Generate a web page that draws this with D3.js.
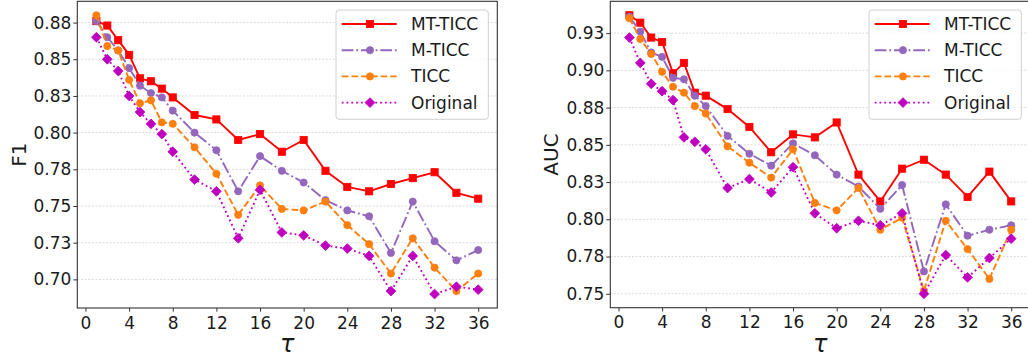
<!DOCTYPE html>
<html>
<head>
<meta charset="utf-8">
<script src="https://cdn.jsdelivr.net/npm/d3@7"></script>
<style>
body{margin:0;background:#fff;}
svg text{font-family:"DejaVu Sans",sans-serif;fill:#1a1a1a;}
</style>
</head>
<body>
<div id="chart"></div>
<script>
// data
var taus=[1,2,3,4,5,6,7,8,10,12,14,16,18,20,22,24,26,28,30,32,34,36];
var seriesNames=["MT-TICC","M-TICC","TICC","Original"];

var mtF1=[0.876,0.873,0.863,0.853,0.837,0.835,0.830,0.824,0.812,0.809,0.795,0.799,0.787,0.795,0.774,0.763,0.760,0.765,0.769,0.773,0.759,0.755];
var mF1=[0.876,0.865,0.856,0.844,0.832,0.827,0.824,0.815,0.800,0.788,0.760,0.784,0.774,0.766,0.754,0.747,0.743,0.718,0.753,0.726,0.713,0.720];
var ticcF1=[0.880,0.859,0.856,0.836,0.820,0.822,0.807,0.806,0.790,0.772,0.744,0.764,0.748,0.747,0.753,0.737,0.724,0.704,0.728,0.708,0.692,0.704];
var origF1=[0.865,0.850,0.842,0.825,0.814,0.806,0.799,0.787,0.768,0.760,0.728,0.761,0.732,0.730,0.723,0.721,0.716,0.692,0.716,0.690,0.695,0.693];

var mtAUC=[0.937,0.932,0.922,0.919,0.898,0.905,0.885,0.883,0.874,0.862,0.845,0.857,0.855,0.865,0.830,0.812,0.834,0.840,0.830,0.815,0.832,0.812];
var mAUC=[0.936,0.926,0.912,0.909,0.895,0.894,0.883,0.876,0.856,0.844,0.836,0.851,0.843,0.830,0.822,0.807,0.823,0.765,0.810,0.789,0.793,0.796];
var ticcAUC=[0.935,0.921,0.911,0.899,0.889,0.885,0.876,0.871,0.849,0.838,0.828,0.847,0.811,0.806,0.821,0.793,0.801,0.752,0.799,0.780,0.760,0.793];
var origAUC=[0.922,0.905,0.891,0.886,0.880,0.855,0.852,0.847,0.821,0.827,0.818,0.835,0.804,0.794,0.799,0.796,0.804,0.750,0.776,0.761,0.774,0.787];

var xTicks=[0,4,8,12,16,20,24,28,32,36];
var f1Ticks=[0.700,0.725,0.750,0.775,0.800,0.825,0.850,0.875];
var f1TickLabels=["0.70","0.73","0.75","0.78","0.80","0.83","0.85","0.88"];
var aucTicks=[0.750,0.775,0.800,0.825,0.850,0.875,0.900,0.925];
var aucTickLabels=["0.75","0.78","0.80","0.83","0.85","0.88","0.90","0.93"];

// styles
var colors=["#ff0000","#9467bd","#ff7f0e","#bf00bf"];
var dashes=[null,"11.7,2.9,1.8,2.9","6.8,2.9","1.8,3"];
var markers=["square","circle","circle","diamond"];

var svg=d3.select("#chart").append("svg")
	.attr("width",1028)
	.attr("height",360);

function drawMarker(g,type,x,y,color){
	if(type=="square"){
		g.append("rect").attr("x",x-3.6).attr("y",y-3.6).attr("width",7.2).attr("height",7.2)
			.attr("fill",color).attr("stroke",color).attr("stroke-width",0.8);
	}
	else if(type=="circle"){
		g.append("circle").attr("cx",x).attr("cy",y).attr("r",3.6)
			.attr("fill",color).attr("stroke",color).attr("stroke-width",0.8);
	}
	else{
		var d=4.9;
		g.append("path").attr("d","M"+x+","+(y-d)+"L"+(x+d)+","+y+"L"+x+","+(y+d)+"L"+(x-d)+","+y+"Z")
			.attr("fill",color).attr("stroke",color).attr("stroke-width",0.8);
	}
}

function drawPanel(left,right,top,bottom,series,yTicks,yTickLabels,yLabel,yLabelX){
	var all=[].concat.apply([],series);
	var lo=d3.min(all),hi=d3.max(all),pad=(hi-lo)*0.05;
	var x=d3.scaleLinear().domain([-0.75,37.75]).range([left,right]);
	var y=d3.scaleLinear().domain([lo-pad,hi+pad]).range([bottom,top]);

	var panel=svg.append("g");

	// grid
	panel.selectAll(".grid").data(yTicks).enter().append("line")
		.attr("x1",left).attr("x2",right)
		.attr("y1",function(d){return y(d);}).attr("y2",function(d){return y(d);})
		.attr("stroke","#cfcfcf").attr("stroke-width",0.8).attr("stroke-dasharray","2,1.6");

	var xAxis=panel.append("g").attr("transform","translate(0,"+bottom+")")
		.call(d3.axisBottom(x).tickValues(xTicks).tickSize(3.7).tickPadding(5));
	xAxis.select(".domain").remove();
	xAxis.selectAll("line").attr("stroke","#333");
	xAxis.selectAll("text").style("font-size","17px").attr("fill","#1a1a1a");

	var yAxis=panel.append("g").attr("transform","translate("+left+",0)")
		.call(d3.axisLeft(y).tickValues(yTicks).tickSize(4).tickPadding(2)
			.tickFormat(function(d,i){return yTickLabels[i];}));
	yAxis.select(".domain").remove();
	yAxis.selectAll("line").attr("stroke","#333");
	yAxis.selectAll("text").style("font-size","17px").attr("fill","#1a1a1a");

	var line=d3.line().x(function(d,i){return x(taus[i]);}).y(function(d){return y(d);});

	for(var s=0;s<series.length;s++){
		var g=panel.append("g");
		g.append("path").attr("d",line(series[s]))
			.attr("fill","none").attr("stroke",colors[s]).attr("stroke-width",1.9)
			.attr("stroke-dasharray",dashes[s]);
		for(var i=0;i<taus.length;i++){
			drawMarker(g,markers[s],x(taus[i]),y(series[s][i]),colors[s]);
		}
	}

	// frame
	panel.append("rect").attr("x",left).attr("y",top)
		.attr("width",right-left).attr("height",bottom-top)
		.attr("fill","none").attr("stroke","#333").attr("stroke-width",1.1);

	panel.append("text").attr("transform","translate("+yLabelX+","+((top+bottom)/2)+") rotate(-90)")
		.attr("text-anchor","middle").attr("dy","0.35em")
		.style("font-size","20px").text(yLabel);

	panel.append("text").attr("x",(left+right)/2).attr("y",351.5)
		.attr("text-anchor","middle").style("font-size","24px").style("font-style","italic")
		.text("\u03c4");

	// legend
	var bx=right-9-152.3,by=10;
	var legend=panel.append("g").attr("class","legend");
	legend.append("rect").attr("x",bx).attr("y",by).attr("width",152.3).attr("height",109.3)
		.attr("rx",3).attr("fill","#fff").attr("fill-opacity",0.8)
		.attr("stroke","#d0d0d0").attr("stroke-width",1);
	for(var k=0;k<seriesNames.length;k++){
		var ry=by+14+k*26.2;
		legend.append("line").attr("x1",bx+5.7).attr("x2",bx+60.7).attr("y1",ry).attr("y2",ry)
			.attr("stroke",colors[k]).attr("stroke-width",1.9).attr("stroke-dasharray",dashes[k]);
		drawMarker(legend,markers[k],bx+34,ry,colors[k]);
		legend.append("text").attr("x",bx+75).attr("y",ry).attr("dy","0.35em")
			.style("font-size","17px").text(seriesNames[k]);
	}
}

drawPanel(77.3,497.3,1.3,308,[mtF1,mF1,ticcF1,origF1],f1Ticks,f1TickLabels,"F1",19.2);
drawPanel(610.3,1030.3,1.3,307.7,[mtAUC,mAUC,ticcAUC,origAUC],aucTicks,aucTickLabels,"AUC",551.3);
</script>
</body>
</html>
